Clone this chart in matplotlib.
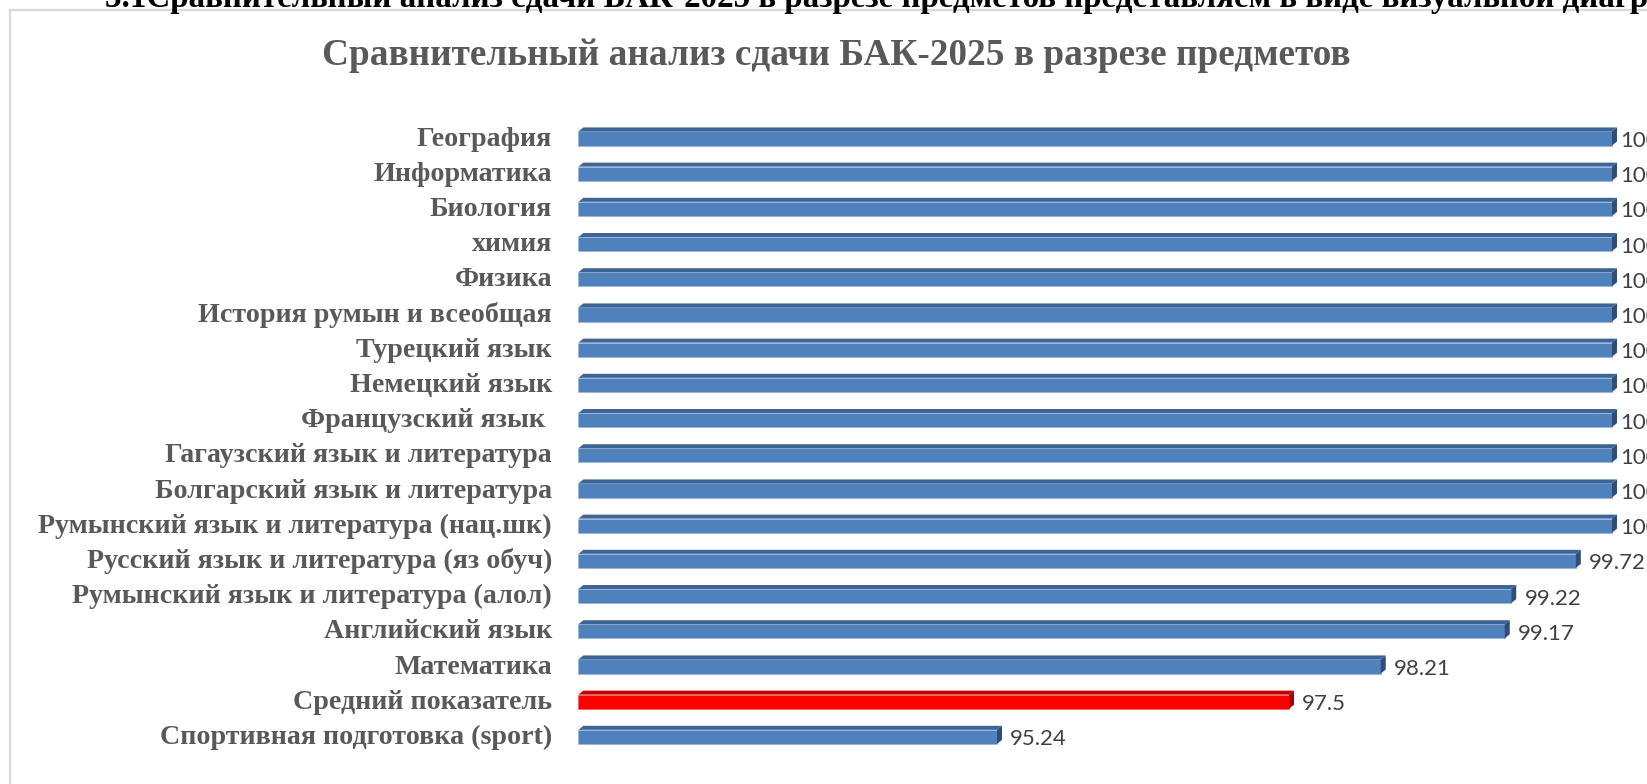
import matplotlib
matplotlib.use("Agg")
import matplotlib.pyplot as plt
from matplotlib.patches import Polygon, Rectangle
from matplotlib.lines import Line2D

categories = [
    "География",
    "Информатика",
    "Биология",
    "химия",
    "Физика",
    "История румын и всеобщая",
    "Турецкий язык",
    "Немецкий язык",
    "Французский язык ",
    "Гагаузский язык и литература",
    "Болгарский язык и литература",
    "Румынский язык и литература (нац.шк)",
    "Русский язык и литература (яз обуч)",
    "Румынский язык и литература (алол)",
    "Английский язык",
    "Математика",
    "Средний показатель",
    "Спортивная подготовка (sport)",
]
values = [100, 100, 100, 100, 100, 100, 100, 100, 100, 100, 100, 100,
          99.72, 99.22, 99.17, 98.21, 97.5, 95.24]
value_labels = ["100"] * 12 + ["99.72", "99.22", "99.17", "98.21", "97.5", "95.24"]
highlight = "Средний показатель"

title = "Сравнительный анализ сдачи БАК-2025 в разрезе предметов"
header = ("3.1Сравнительный анализ сдачи БАК-2025 в разрезе предметов "
          "представляем в виде визуальной диаграммы")

W, H = 1647, 784
fig = plt.figure(figsize=(W / 100, H / 100), dpi=100)
fig.patch.set_facecolor("white")

xmin, xmax = 92, 100
ax_left, ax_right = 578.4, 1612.0
ax_top, ax_bot = 118.4, 752.0
ax = fig.add_axes([ax_left / W, 1 - ax_bot / H, (ax_right - ax_left) / W, (ax_bot - ax_top) / H])
ax.set_xlim(xmin, xmax)
n = len(categories)
ax.set_ylim(n - 0.5, -0.5)

px_per_x = (ax_right - ax_left) / (xmax - xmin)
px_per_y = (ax_bot - ax_top) / n
dx = 5.0 / px_per_x
dy = 4.0 / px_per_y
h = 0.40

for i, (cat, v) in enumerate(zip(categories, values)):
    if cat == highlight:
        front, top, side = "#FF0000", "#C00000", "#A80000"
    else:
        front, top, side = "#4F81BD", "#3C6496", "#2E4E78"
    y0 = i - h / 2 + 0.07
    y1 = i + h / 2 + 0.07
    ax.add_patch(Rectangle((xmin, y0), v - xmin, y1 - y0, facecolor=front,
                           edgecolor="#9DB6D8" if cat != highlight else "#FF6060",
                           linewidth=0.6, clip_on=False))
    ax.add_patch(Polygon([(xmin, y0), (v, y0), (v + dx, y0 - dy), (xmin + dx, y0 - dy)],
                         closed=True, facecolor=top, edgecolor="none", clip_on=False))
    ax.add_patch(Polygon([(v, y0), (v + dx, y0 - dy), (v + dx, y1 - dy), (v, y1)],
                         closed=True, facecolor=side, edgecolor="none", clip_on=False))
    off = 2 if v >= 100 else 6
    ax.annotate(value_labels[i], xy=(v + dx, i + 0.14), xytext=(off, 0),
                textcoords="offset points", va="center", ha="left",
                fontsize=16, color="#404040", family="Lato", annotation_clip=False)

ax.set_yticks(range(n))
ax.set_yticklabels(categories, family="Liberation Serif", fontweight="bold",
                   fontsize=20.2, color="#595959")
ax.tick_params(axis="y", length=0, pad=19)
ax.set_xticks([])
for s in ax.spines.values():
    s.set_visible(False)
ax.patch.set_alpha(0)

fig.text(836 / W, 1 - 65 / H, title, ha="center", va="baseline",
         family="Liberation Serif", fontweight="bold", fontsize=26.8, color="#595959")

fig.text(105 / W, 1 - 7 / H, header, ha="left", va="baseline",
         family="Liberation Serif", fontweight="bold", fontsize=23.8, color="black")

fig.add_artist(Line2D([10 / W, 1.0], [1 - 10 / H, 1 - 10 / H], transform=fig.transFigure,
                      color="#D9D9D9", linewidth=1.6))
fig.add_artist(Line2D([10 / W, 10 / W], [1 - 10 / H, 0.0], transform=fig.transFigure,
                      color="#D9D9D9", linewidth=1.6))

fig.savefig("out.png", dpi=100)
